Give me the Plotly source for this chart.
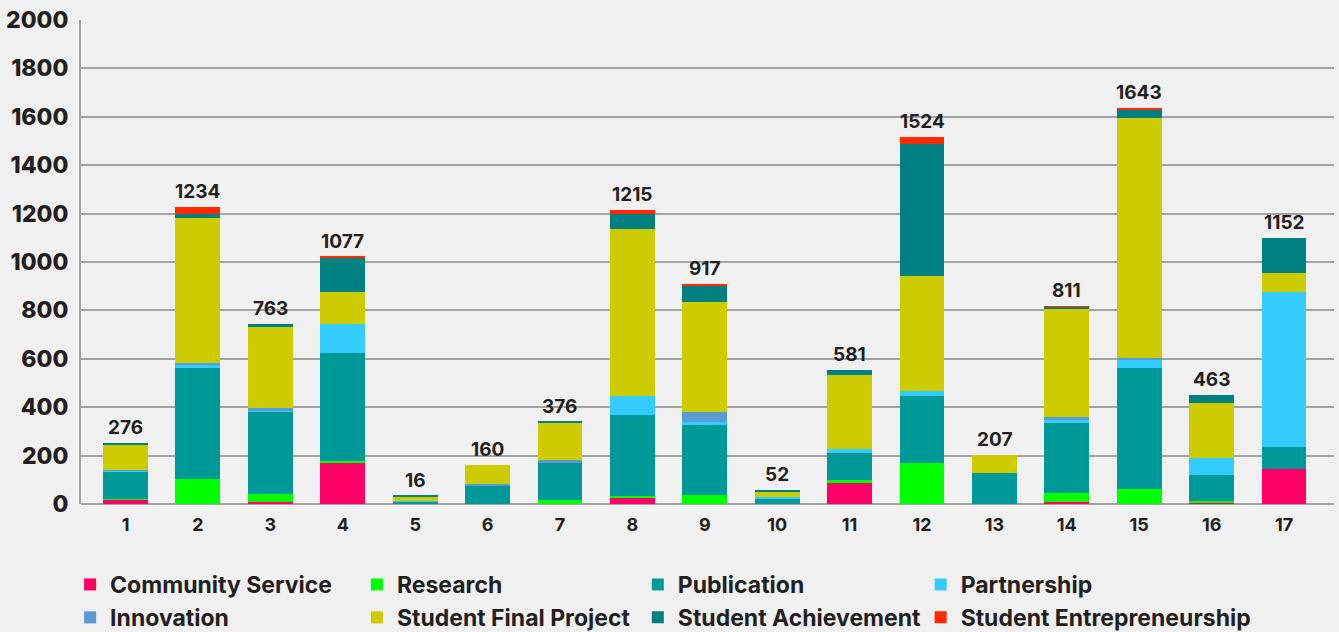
import plotly.graph_objects as go

categories = list(range(1, 18))
totals = [276, 1234, 763, 1077, 16, 160, 376, 1215, 917, 52, 581, 1524, 207, 811, 1643, 463, 1152]

community_service = [20, 0, 10, 168, 0, 0, 0, 28, 0, 0, 88, 0, 0, 10, 0, 8, 145]
research = [2, 103, 32, 10, 0, 1, 17, 5, 39, 0, 11, 168, 0, 34, 62, 5, 0]
publication = [114, 460, 340, 445, 10, 76, 154, 333, 288, 19, 110, 278, 127, 292, 498, 107, 92]
partnership = [2, 14, 3, 121, 1, 0, 0, 81, 10, 11, 18, 19, 0, 11, 34, 69, 640]
innovation = [2, 4, 10, 0, 0, 7, 11, 0, 43, 0, 0, 0, 0, 11, 10, 0, 0]
student_final_project = [103, 599, 337, 134, 22, 78, 154, 690, 454, 20, 306, 479, 76, 446, 989, 230, 76]
student_achievement = [10, 19, 11, 142, 2, 0, 4, 63, 69, 7, 21, 543, 0, 11, 37, 30, 146]
student_entrepreneurship = [0, 28, 0, 2, 0, 0, 0, 14, 5, 0, 0, 28, 0, 3, 6, 0, 0]

# (name, values, colour, legend column)
series = [
    ("Community Service", community_service, "#ff0066", "legend"),
    ("Research", research, "#00ff00", "legend2"),
    ("Publication", publication, "#009999", "legend3"),
    ("Partnership", partnership, "#33ccff", "legend4"),
    ("Innovation", innovation, "#5b9bd5", "legend"),
    ("Student Final Project", student_final_project, "#cccc00", "legend2"),
    ("Student Achievement", student_achievement, "#008080", "legend3"),
    ("Student Entrepreneurship", student_entrepreneurship, "#ff2a00", "legend4"),
]

FONT = "Inter"
TXT = "#231f20"
BG = "#eff0ef"
GRID = "#a3a3a3"

fig = go.Figure()
for name, vals, color, leg in series:
    fig.add_trace(go.Bar(
        x=categories, y=vals, name=name, width=0.62, legend=leg,
        marker=dict(color=color, line=dict(width=0)),
    ))

stack_tops = [sum(s[1][i] for s in series) for i in range(len(categories))]
for xc, top, lab in zip(categories, stack_tops, totals):
    fig.add_annotation(
        x=xc, y=top, text=str(lab), showarrow=False,
        xanchor="center", yanchor="bottom", yshift=2,
        font=dict(family=FONT, size=19, color=TXT, weight=700),
    )

leg_common = dict(
    orientation="v", xanchor="left", y=-0.1219, yanchor="top",
    traceorder="normal", itemwidth=30, bgcolor="rgba(0,0,0,0)",
    font=dict(family=FONT, size=23, color=TXT, weight=700),
)

fig.update_layout(
    barmode="stack",
    width=1339, height=632,
    margin=dict(l=81, r=5, t=20, b=128, autoexpand=False),
    paper_bgcolor=BG, plot_bgcolor=BG,
    font=dict(family=FONT, color=TXT),
    bargap=0,
    legend=dict(x=-0.0087, **leg_common),
    legend2=dict(x=0.2202, **leg_common),
    legend3=dict(x=0.4444, **leg_common),
    legend4=dict(x=0.6701, **leg_common),
    xaxis=dict(
        range=[0.385, 17.69], tickmode="array", tickvals=categories,
        ticktext=[str(c) for c in categories], showgrid=False, zeroline=False,
        tickfont=dict(family=FONT, size=18, color=TXT, weight=700),
        ticks="", showline=False, ticklabelstandoff=8,
    ),
    yaxis=dict(
        range=[0, 2000], dtick=200, showgrid=True, gridcolor=GRID, gridwidth=2,
        zeroline=True, zerolinecolor=GRID, zerolinewidth=2,
        showline=True, linecolor=GRID, linewidth=2,
        tickfont=dict(family=FONT, size=23, color=TXT, weight=800),
        ticks="", ticklabelstandoff=6,
    ),
)

fig.write_html("out.html", config={"displayModeBar": False},
               post_script="document.body.style.margin='0';")
